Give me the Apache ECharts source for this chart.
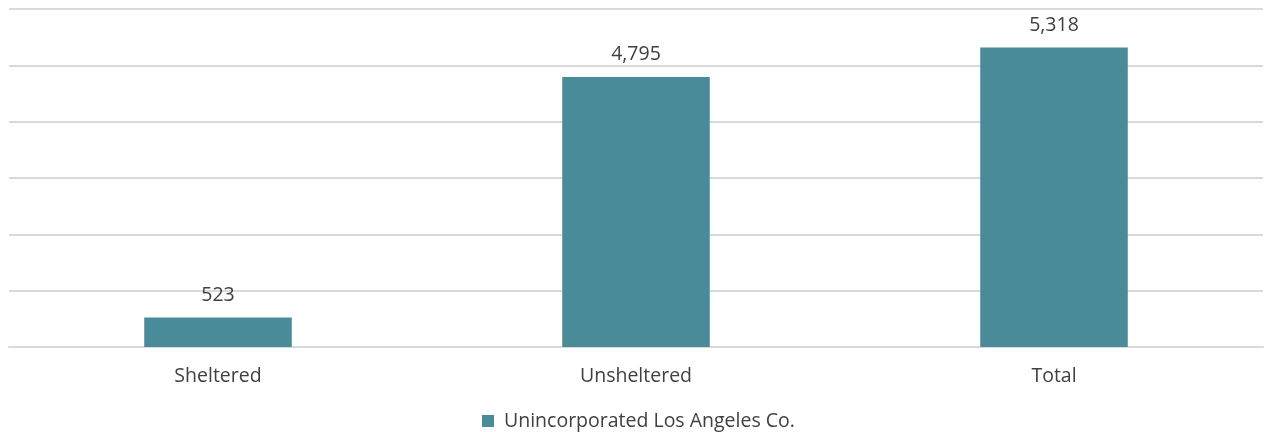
<!DOCTYPE html>
<html>
<head>
<meta charset="utf-8">
<script src="https://cdn.jsdelivr.net/npm/echarts@6/dist/echarts.min.js"></script>
<style>
  html, body { margin: 0; padding: 0; background: #fff; }
  #main { width: 1264px; height: 432px; }
</style>
</head>
<body>
<div id="main"></div>
<script>
var categories = ['Sheltered', 'Unsheltered', 'Total'];
var counts = [523, 4795, 5318];
var seriesName = 'Unincorporated Los Angeles Co.';

var chart = echarts.init(document.getElementById('main'));
var option = {
    animation: false,
    textStyle: {
        fontFamily: 'Open Sans'
    },
    grid: {
        left: 9,
        right: 1,
        top: 9,
        bottom: 85
    },
    legend: {
        data: [seriesName],
        bottom: -4,
        left: 477,
        icon: 'rect',
        itemWidth: 12,
        itemHeight: 12,
        itemGap: 10,
        textStyle: {
            color: '#404040',
            fontSize: 19.5,
            padding: [0, 0, 0, 5]
        }
    },
    xAxis: {
        type: 'category',
        data: categories,
        axisLine: {
            lineStyle: { color: '#d9d9d9', width: 2 }
        },
        axisTick: { show: false },
        axisLabel: {
            color: '#404040',
            fontSize: 19.5,
            margin: 19
        }
    },
    yAxis: {
        type: 'value',
        min: 0,
        max: 6000,
        interval: 1000,
        axisLabel: { show: false },
        axisLine: { show: false },
        axisTick: { show: false },
        splitLine: {
            lineStyle: { color: '#d9d9d9', width: 2 }
        }
    },
    series: [
        {
            name: seriesName,
            type: 'bar',
            data: counts,
            barWidth: '35.3%',
            itemStyle: { color: '#4A8B9A' },
            label: {
                show: true,
                position: 'top',
                distance: 12,
                color: '#404040',
                fontSize: 19.5,
                formatter: function (p) {
                    return p.value.toLocaleString('en-US');
                }
            }
        }
    ]
};
chart.setOption(option);
</script>
</body>
</html>
